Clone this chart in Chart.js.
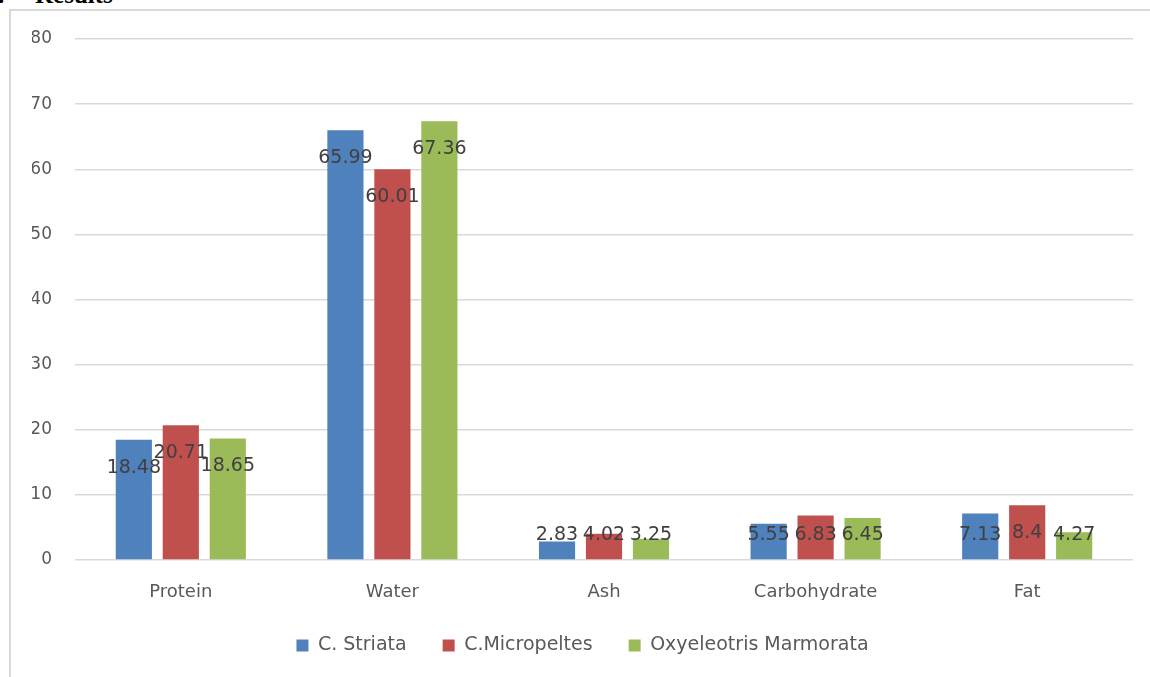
<!DOCTYPE html>
<html>
<head>
<meta charset="utf-8">
<script src="https://cdn.jsdelivr.net/npm/chart.js@4"></script>
<style>
    html, body { margin: 0; padding: 0; background: #fff; }
    body { width: 1150px; height: 677px; overflow: hidden; position: relative; }
    #frame { position: absolute; left: 9px; top: 9px; width: 1200px; height: 700px;
             border-top: 2px solid #d9d9d9; border-left: 2px solid #d9d9d9; }
    .heading { position: absolute; top: -18px; font: bold 25px "Liberation Serif", serif;
               line-height: 25px; color: #000; white-space: pre; }
    #wrap { position: absolute; left: 0; top: 0; width: 1150px; height: 665px; }
</style>
</head>
<body>
<div id="frame"></div>
<div class="heading" style="left:-2px">.</div>
<div class="heading" style="left:35px">Results</div>
<div id="wrap"><canvas id="chart"></canvas></div>
<script>
// Daten
const categories = ['Protein', 'Water', 'Ash', 'Carbohydrate', 'Fat'];
const seriesNames = ['C. Striata', 'C.Micropeltes', 'Oxyeleotris Marmorata'];
const striata = [18.48, 65.99, 2.83, 5.55, 7.13];
const micropeltes = [20.71, 60.01, 4.02, 6.83, 8.4];
const marmorata = [18.65, 67.36, 3.25, 6.45, 4.27];
const seriesColors = ['#4f81bd', '#c0504d', '#9bbb59'];

const FONT = '"DejaVu Sans", sans-serif';

// Werte-Beschriftung "innen am Ende" wie in Excel
const valueLabels = {
    id: 'valueLabels',
    afterDatasetsDraw(chart) {
        const ctx = chart.ctx;
        const base = chart.scales.y.getPixelForValue(0);
        ctx.save();
        ctx.font = '19px ' + FONT;
        ctx.fillStyle = '#404040';
        ctx.textAlign = 'center';
        ctx.textBaseline = 'middle';
        chart.data.datasets.forEach((ds, i) => {
            chart.getDatasetMeta(i).data.forEach((bar, j) => {
                const y = Math.min(bar.y + 28, base - 25);
                ctx.fillText(String(ds.data[j]), bar.x, y);
            });
        });
        ctx.restore();
    }
};

new Chart(document.getElementById('chart').getContext('2d'), {
    type: 'bar',
    data: {
        labels: categories,
        datasets: [striata, micropeltes, marmorata].map((values, i) => ({
            label: seriesNames[i],
            data: values,
            backgroundColor: seriesColors[i],
            categoryPercentage: 0.666,
            barPercentage: 0.77
        }))
    },
    options: {
        responsive: true,
        maintainAspectRatio: false,
        animation: false,
        layout: { padding: { top: 39, right: 17, left: 32, bottom: 0 } },
        plugins: {
            legend: {
                position: 'bottom',
                labels: {
                    boxWidth: 12,
                    boxHeight: 12,
                    padding: 36,
                    color: '#595959',
                    font: { family: FONT, size: 19 }
                }
            },
            tooltip: { enabled: false }
        },
        scales: {
            x: {
                grid: { display: false },
                border: { display: false },
                ticks: { color: '#595959', padding: 14, font: { family: FONT, size: 18 } },
                afterFit: (s) => { s.height = 40; }
            },
            y: {
                min: 0,
                max: 80,
                ticks: { stepSize: 10, color: '#595959', padding: 23, font: { family: FONT, size: 17 } },
                grid: { color: '#d9d9d9', lineWidth: 1.5, drawTicks: false },
                border: { display: false },
                afterFit: (s) => { s.width = 43; }
            }
        }
    },
    plugins: [valueLabels]
});
</script>
</body>
</html>
